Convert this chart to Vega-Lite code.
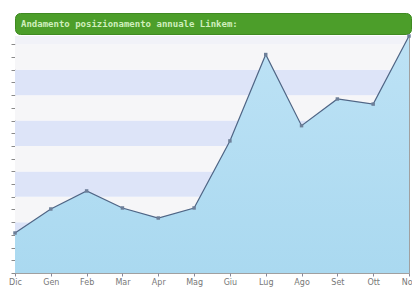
{
  "$schema": "https://vega.github.io/schema/vega-lite/v6.json",
  "background": "white",
  "padding": {"left": 8, "top": 12, "right": 3, "bottom": 0},
  "spacing": 2,
  "bounds": "flush",
  "datasets": {
    "months": [
      {"month": "Dic", "value": 3.15},
      {"month": "Gen", "value": 5.04},
      {"month": "Feb", "value": 6.46},
      {"month": "Mar", "value": 5.12},
      {"month": "Apr", "value": 4.33},
      {"month": "Mag", "value": 5.12},
      {"month": "Giu", "value": 10.4},
      {"month": "Lug", "value": 17.2},
      {"month": "Ago", "value": 11.6},
      {"month": "Set", "value": 13.7},
      {"month": "Ott", "value": 13.3},
      {"month": "Nov", "value": 18.66}
    ],
    "bands": [
      {"lo": 0, "hi": 2, "band": "a"},
      {"lo": 2, "hi": 4, "band": "b"},
      {"lo": 4, "hi": 6, "band": "a"},
      {"lo": 6, "hi": 8, "band": "b"},
      {"lo": 8, "hi": 10, "band": "a"},
      {"lo": 10, "hi": 12, "band": "b"},
      {"lo": 12, "hi": 14, "band": "a"},
      {"lo": 14, "hi": 16, "band": "b"},
      {"lo": 16, "hi": 18, "band": "a"},
      {"lo": 18, "hi": 18.66, "band": "c"}
    ],
    "header": [
      {"month": "Dic", "label": "Andamento posizionamento annuale Linkem:"}
    ]
  },
  "vconcat": [
    {
      "width": 396,
      "height": 21,
      "view": {"fill": "#4c9e2a", "stroke": "#3f8a22", "cornerRadius": 5},
      "data": {"name": "header"},
      "mark": {"type": "text", "align": "left", "baseline": "middle", "dx": 6, "font": "DejaVu Sans Mono", "fontSize": 9, "fontWeight": "bold", "color": "#cfeebd"},
      "encoding": {
        "x": {"field": "month", "type": "ordinal", "scale": {"type": "point", "padding": 0, "domain": ["Dic", "Gen", "Feb", "Mar", "Apr", "Mag", "Giu", "Lug", "Ago", "Set", "Ott", "Nov"]}, "axis": null},
        "text": {"field": "label"}
      }
    },
    {
      "width": 394,
      "height": 237,
      "view": {"stroke": "#a0a0a0"},
      "encoding": {
        "y": {"type": "quantitative", "scale": {"domain": [0, 18.66], "nice": false, "zero": true}, "axis": {"values": [0,1,2,3,4,5,6,7,8,9,10,11,12,13,14,15,16,17,18], "labels": false, "title": null, "grid": false, "tickSize": 4, "tickColor": "#8a8a8a", "domainColor": "#9a9a9a"}}
      },
      "layer": [
        {
          "data": {"name": "bands"},
          "mark": {"type": "rect"},
          "encoding": {
            "y": {"field": "lo", "type": "quantitative"},
            "y2": {"field": "hi"},
            "color": {"field": "band", "type": "nominal", "scale": {"domain": ["a", "b", "c"], "range": ["#f6f6f8", "#dde4f8", "#f1f2f8"]}, "legend": null}
          }
        },
        {
          "data": {"name": "months"},
          "mark": {"type": "area", "opacity": 1, "color": {"gradient": "linear", "x1": 0, "y1": 0, "x2": 0, "y2": 1, "stops": [{"offset": 0, "color": "#bde2f5"}, {"offset": 1, "color": "#aad9f0"}]}},
          "encoding": {
            "x": {"field": "month", "type": "ordinal", "sort": null, "scale": {"type": "point", "padding": 0}, "axis": {"title": null, "labelAngle": 0, "labelFont": "DejaVu Sans", "labelFontSize": 8, "labelColor": "#777", "tickSize": 3, "tickColor": "#889", "labelPadding": 2, "domain": false}},
            "y": {"field": "value", "type": "quantitative"}
          }
        },
        {
          "data": {"name": "months"},
          "mark": {"type": "line", "color": "#4f6585", "strokeWidth": 1.2, "point": {"shape": "square", "size": 12, "filled": true, "color": "#6d7f99"}},
          "encoding": {
            "x": {"field": "month", "type": "ordinal", "sort": null},
            "y": {"field": "value", "type": "quantitative"}
          }
        }
      ]
    }
  ]
}
